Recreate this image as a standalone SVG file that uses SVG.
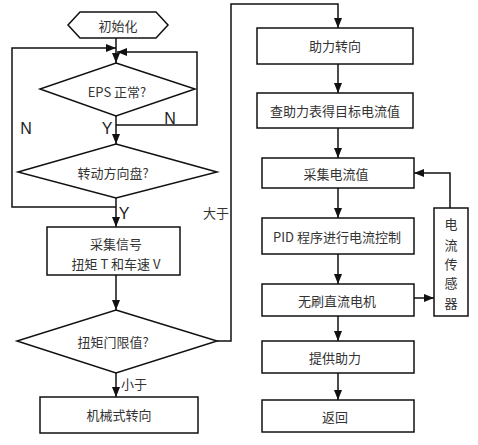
<svg xmlns="http://www.w3.org/2000/svg" width="478" height="445" viewBox="0 0 478 445">
<defs>
<marker id="arr" markerUnits="userSpaceOnUse" markerWidth="10" markerHeight="10" viewBox="0 0 10 10" refX="10" refY="5" orient="auto">
<path d="M0,1 L10,5 L0,9 Z" fill="#111"/>
</marker>
</defs>
<style>
.s{fill:#fff;stroke:#111;stroke-width:1.5}
.c{fill:none;stroke:#111;stroke-width:1.5}
.t{font-family:"Noto Sans CJK SC","Liberation Sans",sans-serif;font-size:13px;fill:#333;text-anchor:middle;dominant-baseline:central}
.l{font-family:"Liberation Sans",sans-serif;font-size:16px;fill:#222;text-anchor:middle;dominant-baseline:central}
.m{font-family:"Noto Sans CJK SC","Liberation Sans",sans-serif;font-size:13px;fill:#333;text-anchor:middle;dominant-baseline:central}
</style>
<rect width="478" height="445" fill="#fff"/>
<g id="connectors">
<path class="c" d="M116,38 V63" marker-end="url(#arr)"/>
<path class="c" d="M116,207 H12 V48 H116" marker-end="url(#arr)"/>
<path class="c" d="M116,125 H197 V52 H117" marker-end="url(#arr)"/>
<path class="c" d="M116,116 V144" marker-end="url(#arr)"/>
<path class="c" d="M116,198 V227" marker-end="url(#arr)"/>
<path class="c" d="M116,275 V310" marker-end="url(#arr)"/>
<path class="c" d="M116,373 V397" marker-end="url(#arr)"/>
<path class="c" d="M217,341 H231 V4 H338 V28" marker-end="url(#arr)"/>
<path class="c" d="M338,64 V93" marker-end="url(#arr)"/>
<path class="c" d="M338,128 V158" marker-end="url(#arr)"/>
<path class="c" d="M338,188 V218" marker-end="url(#arr)"/>
<path class="c" d="M338,254 V284" marker-end="url(#arr)"/>
<path class="c" d="M338,316 V341" marker-end="url(#arr)"/>
<path class="c" d="M338,373 V400" marker-end="url(#arr)"/>
<path class="c" d="M450,208 V173 H414" marker-end="url(#arr)"/>
<path class="c" d="M414,298 H434" marker-end="url(#arr)"/>
<text class="l" x="170" y="118">N</text>
<text class="l" x="107" y="128">Y</text>
<text class="l" x="26" y="128">N</text>
<text class="l" x="124" y="213">Y</text>
<text class="m" x="216" y="212">大于</text>
<text class="m" x="134" y="383">小于</text>
</g>
<g id="start">
<polygon class="s" points="68,25 80,12 156,12 168,25 156,38 80,38"/>
<text class="t" x="118" y="25">初始化</text>
</g>
<g id="eps">
<polygon class="s" points="116,63 195,89 116,116 40,89"/>
<text class="t" x="117" y="91">EPS 正常?</text>
</g>
<g id="wheel">
<polygon class="s" points="116,144 217,172 116,198 18,172"/>
<text class="t" x="113" y="172">转动方向盘?</text>
</g>
<g id="collect">
<rect class="s" x="47" y="227" width="133" height="48"/>
<text class="t" x="116" y="243">采集信号</text>
<text class="t" x="116" y="263">扭矩 T 和车速 V</text>
</g>
<g id="threshold">
<polygon class="s" points="116,310 217,341 116,373 17,341"/>
<text class="t" x="113" y="341">扭矩门限值?</text>
</g>
<g id="mech">
<rect class="s" x="40" y="397" width="158" height="36"/>
<text class="t" x="119" y="414">机械式转向</text>
</g>
<g id="assist">
<rect class="s" x="257" y="28" width="156" height="36"/>
<text class="t" x="335" y="45">助力转向</text>
</g>
<g id="lookup">
<rect class="s" x="257" y="93" width="156" height="35"/>
<text class="t" x="335" y="110">查助力表得目标电流值</text>
</g>
<g id="sample">
<rect class="s" x="262" y="158" width="152" height="30"/>
<text class="t" x="336" y="173">采集电流值</text>
</g>
<g id="pid">
<rect class="s" x="262" y="218" width="152" height="36"/>
<text class="t" x="337" y="236">PID 程序进行电流控制</text>
</g>
<g id="motor">
<rect class="s" x="262" y="284" width="152" height="32"/>
<text class="t" x="337" y="300">无刷直流电机</text>
</g>
<g id="provide">
<rect class="s" x="262" y="341" width="152" height="32"/>
<text class="t" x="335" y="357">提供助力</text>
</g>
<g id="return">
<rect class="s" x="262" y="400" width="152" height="32"/>
<text class="t" x="335" y="416">返回</text>
</g>
<g id="sensor">
<rect class="s" x="434" y="208" width="34" height="108"/>
<text class="t" x="451" y="223">电</text>
<text class="t" x="451" y="244">流</text>
<text class="t" x="451" y="263">传</text>
<text class="t" x="451" y="282">感</text>
<text class="t" x="451" y="302">器</text>
</g>
</svg>
